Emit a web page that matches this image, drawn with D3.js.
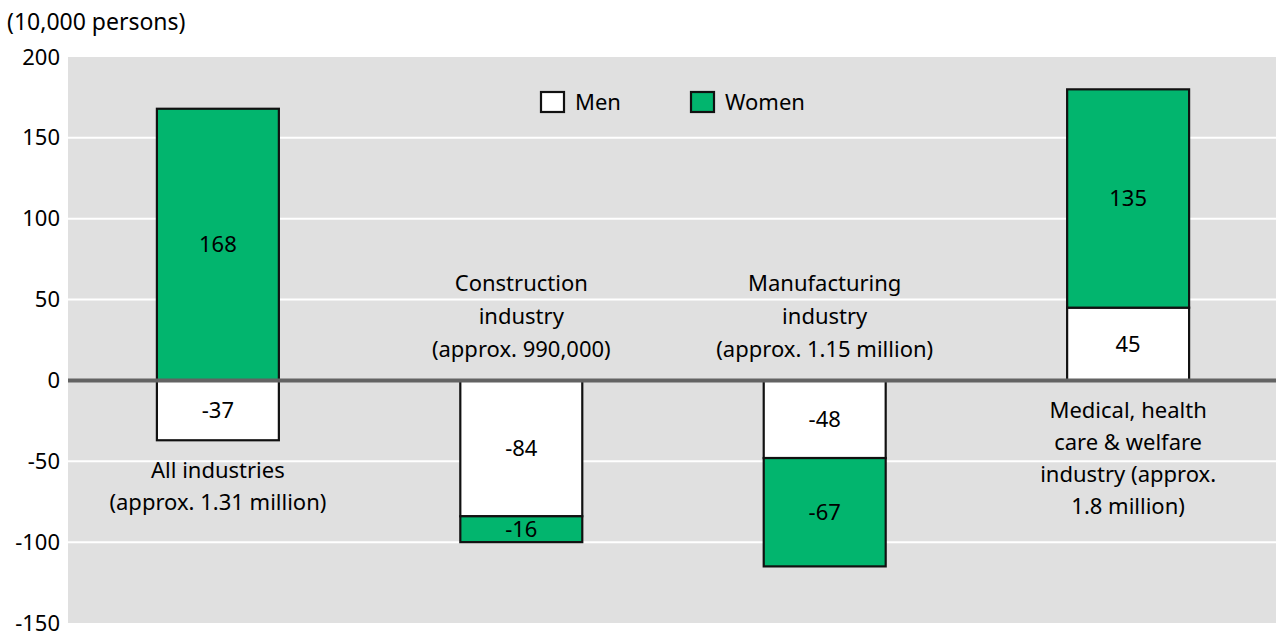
<!DOCTYPE html>
<html>
<head>
<meta charset="utf-8">
<script src="https://cdn.jsdelivr.net/npm/d3@7"></script>
<style>
  body { margin: 0; background: #fff; }
  svg { display: block; font-family: "Noto Sans", "Open Sans", sans-serif; }
</style>
</head>
<body>
<svg id="chart" width="1276" height="639"></svg>
<script>
// Change in employed persons by industry (10,000 persons)
const categories = ["All industries", "Construction", "Manufacturing", "Medical"];
const categoryLabels = [
  ["All industries", "(approx. 1.31 million)"],
  ["Construction", "industry", "(approx. 990,000)"],
  ["Manufacturing", "industry", "(approx. 1.15 million)"],
  ["Medical, health", "care & welfare", "industry (approx.", "1.8 million)"]
];
const menValues = [-37, -84, -48, 45];
const womenValues = [168, -16, -67, 135];
const yTicks = [200, 150, 100, 50, 0, -50, -100, -150];
const seriesNames = ["Men", "Women"];

const colors = { Men: "#ffffff", Women: "#02b56e" };
const FS = 22;

const svg = d3.select("#chart");
const margin = { left: 68, right: 0, top: 57, bottom: 16 };
const W = 1276, H = 639;

const x = d3.scaleBand()
  .domain(categories)
  .range([margin.left, 1278])
  .paddingInner(0.598)
  .paddingOuter(0.293);

const y = d3.scaleLinear()
  .domain([-150, 200])
  .range([623, margin.top]);

// plot background
svg.append("rect")
  .attr("x", margin.left).attr("y", y(200))
  .attr("width", W - margin.left - margin.right)
  .attr("height", y(-150) - y(200))
  .attr("fill", "#e0e0e0");

// gridlines
svg.append("g").selectAll("line")
  .data(yTicks.filter(d => d !== 0 && d !== 200 && d !== -150))
  .join("line")
  .attr("x1", margin.left).attr("x2", W - margin.right)
  .attr("y1", d => y(d)).attr("y2", d => y(d))
  .attr("stroke", "#ffffff").attr("stroke-width", 2);

// y axis labels (plain hyphen for negatives)
const yAxis = d3.axisLeft(y).tickValues(yTicks).tickSize(0).tickPadding(8)
  .tickFormat(d => String(d));
const gy = svg.append("g").attr("transform", `translate(${margin.left},0)`).call(yAxis);
gy.select(".domain").remove();
gy.selectAll("text")
  .attr("font-size", FS).attr("fill", "#000")
  .attr("font-family", "'Noto Sans', sans-serif");

// unit label
svg.append("text")
  .attr("x", 7).attr("y", 30)
  .attr("font-size", 23).attr("fill", "#000")
  .text("(10,000 persons)");

// stacked segments: men from zero, women continue from men's end
const segments = [];
categories.forEach((c, i) => {
  const m = menValues[i], w = womenValues[i];
  segments.push({ cat: c, series: "Men", y0: 0, y1: m, value: m });
  const base = (Math.sign(w) === Math.sign(m)) ? m : 0;
  segments.push({ cat: c, series: "Women", y0: base, y1: base + w, value: w });
});

const bars = svg.append("g");
bars.selectAll("rect")
  .data(segments)
  .join("rect")
  .attr("x", d => x(d.cat))
  .attr("width", x.bandwidth())
  .attr("y", d => y(Math.max(d.y0, d.y1)))
  .attr("height", d => Math.abs(y(d.y0) - y(d.y1)))
  .attr("fill", d => colors[d.series])
  .attr("stroke", "#111").attr("stroke-width", 2.2);

// value labels
bars.selectAll("text")
  .data(segments)
  .join("text")
  .attr("x", d => x(d.cat) + x.bandwidth() / 2)
  .attr("y", d => y((d.y0 + d.y1) / 2))
  .attr("dy", "0.35em")
  .attr("text-anchor", "middle")
  .attr("font-size", FS).attr("fill", "#000")
  .text(d => d.value);

// zero line
svg.append("line")
  .attr("x1", margin.left).attr("x2", W - margin.right)
  .attr("y1", y(0)).attr("y2", y(0))
  .attr("stroke", "#636363").attr("stroke-width", 4);

// category labels: below the bar when the top is positive, above the zero line otherwise
const labelG = svg.append("g");
categories.forEach((c, i) => {
  const lines = categoryLabels[i];
  const m = menValues[i], w = womenValues[i];
  const stacked = Math.sign(w) === Math.sign(m);
  const top = Math.max(0, m, w, stacked ? m + w : 0);
  const bottom = Math.min(0, m, w, stacked ? m + w : 0);
  const cx = x(c) + x.bandwidth() / 2;
  let startY, lh;
  if (top > 0) {
    // label sits below the lowest point of the bar
    lh = 32;
    startY = Math.max(y(bottom), y(0)) + 38;
  } else {
    // label sits above the zero line
    lh = 33;
    startY = y(0) - 23 - (lines.length - 1) * lh;
  }
  const t = labelG.append("text")
    .attr("text-anchor", "middle")
    .attr("font-size", FS).attr("fill", "#000");
  lines.forEach((ln, k) => {
    t.append("tspan").attr("x", cx).attr("y", startY + k * lh).text(ln);
  });
});

// legend
const legend = svg.append("g");
const legendX = [541, 691];
seriesNames.forEach((s, i) => {
  legend.append("rect")
    .attr("x", legendX[i]).attr("y", 92)
    .attr("width", 23).attr("height", 20)
    .attr("fill", colors[s]).attr("stroke", "#111").attr("stroke-width", 2.2);
  legend.append("text")
    .attr("x", legendX[i] + 34).attr("y", 102)
    .attr("dy", "0.35em")
    .attr("font-size", FS).attr("fill", "#000")
    .text(s);
});
</script>
</body>
</html>
